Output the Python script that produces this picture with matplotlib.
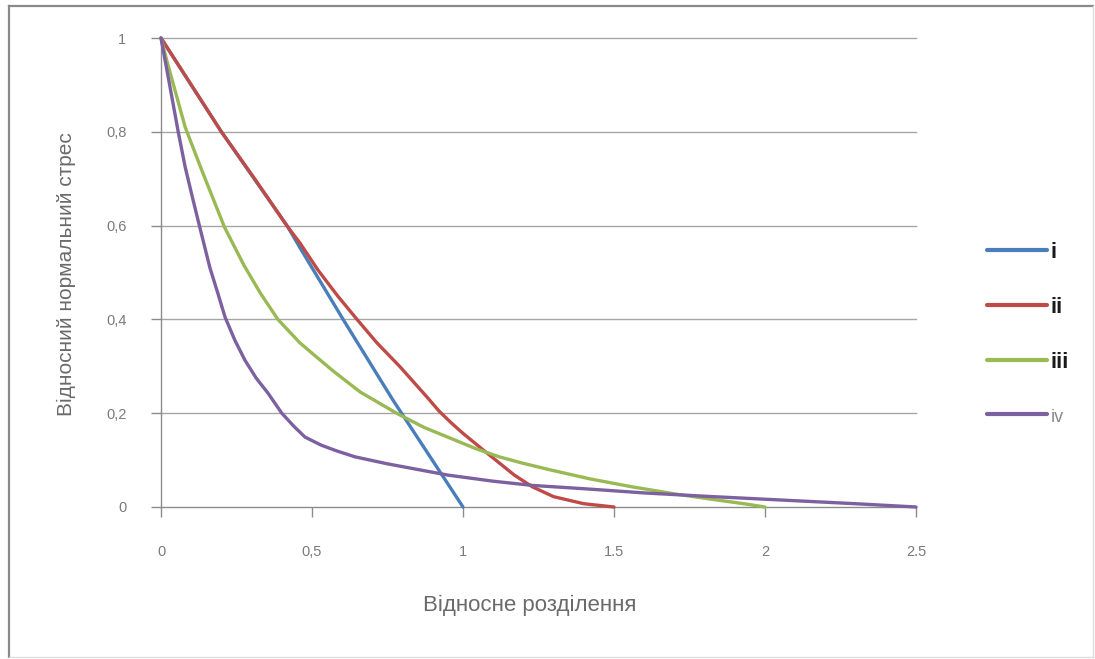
import matplotlib
matplotlib.use("Agg")
import matplotlib.pyplot as plt
from matplotlib.lines import Line2D

plt.rcParams['font.family'] = ['Liberation Sans', 'DejaVu Sans']

# ---- data ----
labels = ["i", "ii", "iii", "iv"]
colors = ["#4a7ebb", "#be4b48", "#98b954", "#7d60a0"]

x_i = [0, 0.2, 0.42, 0.46, 0.603, 0.768, 1.0]
y_i = [1, 0.8, 0.597, 0.553, 0.4, 0.228, 0.0]

x_ii = [0, 0.1, 0.2, 0.31, 0.42, 0.46, 0.52, 0.585, 0.649, 0.715, 0.79, 0.88, 0.92, 0.96, 1.0,
        1.07, 1.12, 1.17, 1.23, 1.3, 1.4, 1.5]
y_ii = [1, 0.9, 0.8, 0.7, 0.597, 0.563, 0.505, 0.45, 0.4, 0.35, 0.3, 0.235, 0.205, 0.18, 0.157,
        0.12, 0.094, 0.068, 0.043, 0.022, 0.007, 0.0]

x_iii = [0, 0.02, 0.05, 0.08, 0.135, 0.21, 0.275, 0.33, 0.387, 0.46, 0.5, 0.57, 0.66, 0.78, 0.87,
         0.957, 1.04, 1.12, 1.2, 1.29, 1.42, 1.56, 1.7, 1.84, 1.93, 2.0]
y_iii = [1, 0.95, 0.88, 0.81, 0.718, 0.597, 0.515, 0.455, 0.4, 0.35, 0.328, 0.29, 0.245, 0.2, 0.17,
         0.147, 0.125, 0.107, 0.093, 0.079, 0.06, 0.043, 0.028, 0.015, 0.007, 0.0]

x_iv = [0, 0.02, 0.04, 0.057, 0.08, 0.106, 0.129, 0.162, 0.19, 0.212, 0.245, 0.278, 0.315, 0.354,
        0.4, 0.44, 0.477, 0.53, 0.58, 0.642, 0.75, 0.85, 0.95, 1.1, 1.23, 1.4, 1.6, 1.8, 2.05, 2.3, 2.5]
y_iv = [1, 0.93, 0.86, 0.8, 0.725, 0.655, 0.595, 0.51, 0.452, 0.405, 0.355, 0.313, 0.275, 0.243,
        0.2, 0.172, 0.149, 0.132, 0.12, 0.107, 0.092, 0.08, 0.068, 0.055, 0.046, 0.039, 0.03, 0.023,
        0.015, 0.007, 0.0]

xticks = [0, 0.5, 1, 1.5, 2, 2.5]
xticklabels = ["0", "0,5", "1", "1.5", "2", "2.5"]
yticks = [0, 0.2, 0.4, 0.6, 0.8, 1.0]
yticklabels = ["0", "0,2", "0,4", "0,6", "0,8", "1"]

W, H = 1095, 659
fig = plt.figure(figsize=(W / 100, H / 100), dpi=100)
fig.patch.set_facecolor("white")

# outer border
def fx(px): return px / W
def fy(py): return 1 - py / H
fig.add_artist(Line2D([fx(9), fx(9)], [fy(6), fy(657)], color="#8a8a8a", lw=1.6))
fig.add_artist(Line2D([fx(9), fx(1093)], [fy(6), fy(6)], color="#8a8a8a", lw=1.6))
fig.add_artist(Line2D([fx(1093), fx(1093)], [fy(6), fy(657)], color="#dddddd", lw=1.0))
fig.add_artist(Line2D([fx(9), fx(1093)], [fy(657), fy(657)], color="#dddddd", lw=1.0))

left, right, top, bottom = 161, 916, 38, 507
ax = fig.add_axes([left / W, 1 - bottom / H, (right - left) / W, (bottom - top) / H])
ax.set_xlim(0, 2.5)
ax.set_ylim(0, 1)

series = [(x_i, y_i), (x_ii, y_ii), (x_iii, y_iii), (x_iv, y_iv)]
for (xs, ys), c, lab in zip(series, colors, labels):
    ax.plot(xs, ys, color=c, lw=2.4, label=lab, clip_on=False,
            solid_joinstyle="round", solid_capstyle="round", zorder=3)

# grid
for yv in yticks[1:]:
    ax.axhline(yv, color="#a6a6a6", lw=1.0, zorder=1, clip_on=False)

for s in ["top", "right"]:
    ax.spines[s].set_visible(False)
for s in ["left", "bottom"]:
    ax.spines[s].set_color("#8c8c8c")
    ax.spines[s].set_linewidth(1.0)

ax.set_xticks(xticks)
ax.set_xticklabels(xticklabels)
ax.set_yticks(yticks)
ax.set_yticklabels(yticklabels)
ax.tick_params(axis="x", direction="out", length=7, width=1, color="#8c8c8c",
               pad=20, labelsize=10.5, labelcolor="#7a7a7a")
ax.tick_params(axis="y", direction="out", length=7, width=1, color="#8c8c8c",
               pad=18, labelsize=10.5, labelcolor="#7a7a7a")

ax.set_xlabel("Відносне розділення", fontsize=16, color="#6a6a6a")
ax.xaxis.set_label_coords((530 - left) / (right - left), (bottom - 595) / (bottom - top))
ax.set_ylabel("Відносний нормальний стрес", fontsize=15, color="#6a6a6a")
ax.yaxis.set_label_coords((76 - left) / (right - left), (bottom - 274) / (bottom - top))

leg = fig.legend(loc="center left", bbox_to_anchor=(967 / W, 1 - 334 / H),
                 frameon=False, fontsize=16, handlelength=2.7, handletextpad=0.15,
                 labelspacing=1.52)
for t in leg.get_texts()[:3]:
    t.set_fontweight("bold")
    t.set_color("#1a1a1a")
leg.get_texts()[3].set_color("#8a8a8a")
leg.get_texts()[3].set_fontsize(13)
for h in leg.get_lines():
    h.set_linewidth(3)

fig.savefig("out.png", dpi=100)
